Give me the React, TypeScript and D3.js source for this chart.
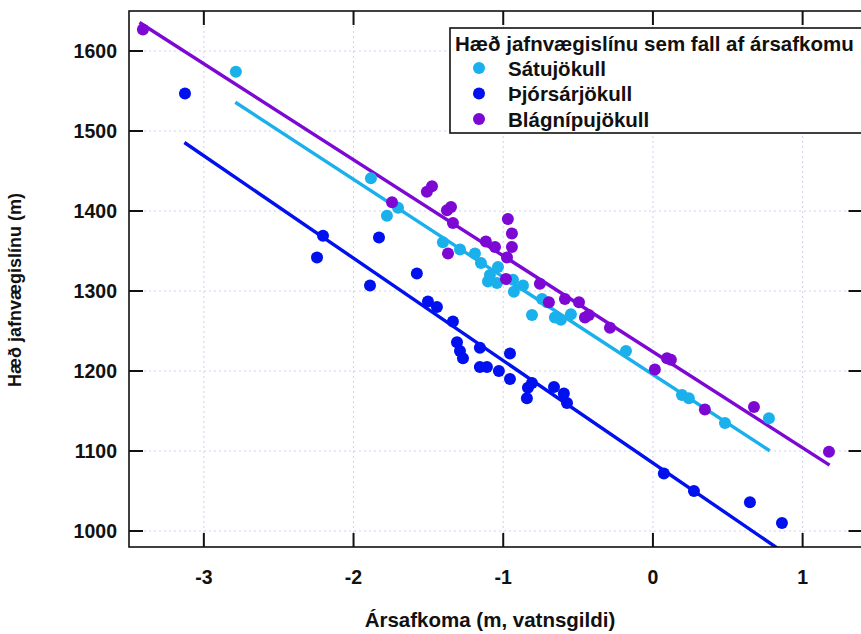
import React from "react";
import * as d3 from "d3";

const W = 861;
const H = 634;

const xTicks = [-3, -2, -1, 0, 1];
const yTicks = [1000, 1100, 1200, 1300, 1400, 1500, 1600];

const seriesNames = ["Sátujökull", "Þjórsárjökull", "Blágnípujökull"];
const seriesColors = ["#1ab0ec", "#0010ee", "#7d08d4"];

// Sátujökull
const satuX = [-2.786, -1.884, -1.703, -1.777, -1.403, -1.289, -1.189, -1.149, -1.102, -1.089, -1.035, -1.042, -0.935, -0.929, -0.868, -0.808, -0.741, -0.708, -0.655, -0.615, -0.548, -0.18, 0.194, 0.24, 0.481, 0.775];
const satuY = [1574, 1441, 1404, 1394, 1361, 1352, 1347, 1335, 1312, 1320, 1330, 1310, 1314, 1299, 1307, 1270, 1290, 1286, 1267, 1264, 1271, 1225, 1170, 1166, 1135, 1141];

// Þjórsárjökull
const thjorsX = [-3.126, -2.204, -2.244, -1.83, -1.89, -1.577, -1.503, -1.443, -1.336, -1.309, -1.289, -1.269, -1.156, -1.156, -1.109, -1.029, -0.955, -0.955, -0.835, -0.808, -0.842, -0.661, -0.595, -0.574, 0.073, 0.274, 0.648, 0.862];
const thjorsY = [1547, 1369, 1342, 1367, 1307, 1322, 1287, 1280, 1262, 1236, 1225, 1216, 1229, 1205, 1205, 1200, 1222, 1190, 1179, 1185, 1166, 1180, 1172, 1160, 1072, 1050, 1036, 1010];

// Blágnípujökull
const blagX = [-3.407, -1.743, -1.51, -1.476, -1.376, -1.349, -1.336, -1.369, -1.116, -1.055, -0.969, -0.942, -0.942, -0.975, -0.982, -0.755, -0.695, -0.588, -0.494, -0.454, -0.428, -0.287, 0.013, 0.094, 0.12, 0.347, 0.675, 1.176];
const blagY = [1627, 1411, 1424, 1431, 1401, 1405, 1385, 1347, 1362, 1355, 1390, 1372, 1355, 1342, 1315, 1309, 1286, 1290, 1286, 1267, 1270, 1254, 1202, 1216, 1214, 1152, 1155, 1099];

// Linear fits: intercept, slope, x-range
const fitIntercept = [1195.5, 1085, 1224];
const fitSlope = [-122, -128, -120];
const fitX0 = [-2.79, -3.13, -3.43];
const fitX1 = [0.78, 0.87, 1.18];

const xsAll = [satuX, thjorsX, blagX];
const ysAll = [satuY, thjorsY, blagY];

const FONT = "'Liberation Sans', Arial, Helvetica, sans-serif";

export default function App() {
  const left = 129;
  const right = 862.5;
  const top = 11;
  const bottom = 547;
  const x = d3.scaleLinear().domain([-3.5, 1.4]).range([left, right]);
  const y = d3.scaleLinear().domain([980, 1650]).range([bottom, top]);

  const line = d3
    .line<[number, number]>()
    .x((d) => x(d[0]))
    .y((d) => y(d[1]));

  const drawOrder = [0, 1, 2];

  return (
    <svg
      width={W}
      height={H}
      style={{ position: "absolute", left: 0, top: 0, background: "#fff" }}
      fontFamily={FONT}
    >
      <defs>
        <clipPath id="plotclip">
          <rect x={left} y={top} width={right - left} height={bottom - top} />
        </clipPath>
      </defs>
      <rect x={0} y={0} width={W} height={H} fill="#fff" />
      {/* grid */}
      <g stroke="#cfcff0" strokeWidth={1} strokeDasharray="2,3">
        {xTicks.map((t) => (
          <line key={"gx" + t} x1={x(t)} x2={x(t)} y1={top} y2={bottom} />
        ))}
        {yTicks.map((t) => (
          <line key={"gy" + t} x1={left} x2={right} y1={y(t)} y2={y(t)} />
        ))}
      </g>
      {/* fit lines */}
      <g clipPath="url(#plotclip)">
        {drawOrder.map((i) => {
          const pts: [number, number][] = [fitX0[i], fitX1[i]].map(
            (xv) => [xv, fitIntercept[i] + fitSlope[i] * xv] as [number, number]
          );
          return (
            <path
              key={"fit" + i}
              d={line(pts) || ""}
              stroke={seriesColors[i]}
              strokeWidth={3.4}
              fill="none"
            />
          );
        })}
      </g>
      {/* points */}
      <g clipPath="url(#plotclip)">
        {drawOrder.map((i) =>
          xsAll[i].map((xv, j) => (
            <circle
              key={"p" + i + "-" + j}
              cx={x(xv)}
              cy={y(ysAll[i][j])}
              r={6}
              fill={seriesColors[i]}
            />
          ))
        )}
      </g>
      {/* frame */}
      <rect
        x={left}
        y={top}
        width={right - left}
        height={bottom - top}
        fill="none"
        stroke="#111"
        strokeWidth={1.6}
      />
      {/* ticks */}
      <g stroke="#111" strokeWidth={2}>
        {xTicks.map((t) => (
          <g key={"tx" + t}>
            <line x1={x(t)} x2={x(t)} y1={bottom} y2={bottom - 14} />
            <line x1={x(t)} x2={x(t)} y1={top} y2={top + 14} />
          </g>
        ))}
        {yTicks.map((t) => (
          <g key={"ty" + t}>
            <line x1={left} x2={left + 14} y1={y(t)} y2={y(t)} />
            <line x1={right} x2={right - 14} y1={y(t)} y2={y(t)} />
          </g>
        ))}
      </g>
      {/* tick labels */}
      <g fontWeight="bold" fontSize={19.5} fill="#111">
        {xTicks.map((t) => (
          <text key={"lx" + t} x={x(t)} y={584} textAnchor="middle">
            {t}
          </text>
        ))}
        {yTicks.map((t) => (
          <text
            key={"ly" + t}
            x={117}
            y={y(t)}
            textAnchor="end"
            dominantBaseline="central"
          >
            {t}
          </text>
        ))}
      </g>
      {/* axis titles */}
      <text
        x={490}
        y={627}
        textAnchor="middle"
        fontWeight="bold"
        fontSize={20.5}
        fill="#111"
      >
        Ársafkoma (m, vatnsgildi)
      </text>
      <text
        transform={`translate(21,290) rotate(-90)`}
        textAnchor="middle"
        fontWeight="bold"
        fontSize={18}
        fill="#111"
      >
        Hæð jafnvægislínu (m)
      </text>
      {/* legend */}
      <g>
        <rect
          x={450}
          y={28}
          width={420}
          height={105}
          fill="#fff"
          stroke="#111"
          strokeWidth={1.6}
        />
        <text x={455} y={51} fontWeight="bold" fontSize={20.5} fill="#111">
          Hæð jafnvægislínu sem fall af ársafkomu
        </text>
        {seriesNames.map((name, i) => (
          <g key={"lg" + i}>
            <circle cx={479} cy={68 + i * 25.5} r={6} fill={seriesColors[i]} />
            <text
              x={508}
              y={68 + i * 25.5}
              dominantBaseline="central"
              fontWeight="bold"
              fontSize={20.5}
              fill="#111"
            >
              {name}
            </text>
          </g>
        ))}
      </g>
    </svg>
  );
}
